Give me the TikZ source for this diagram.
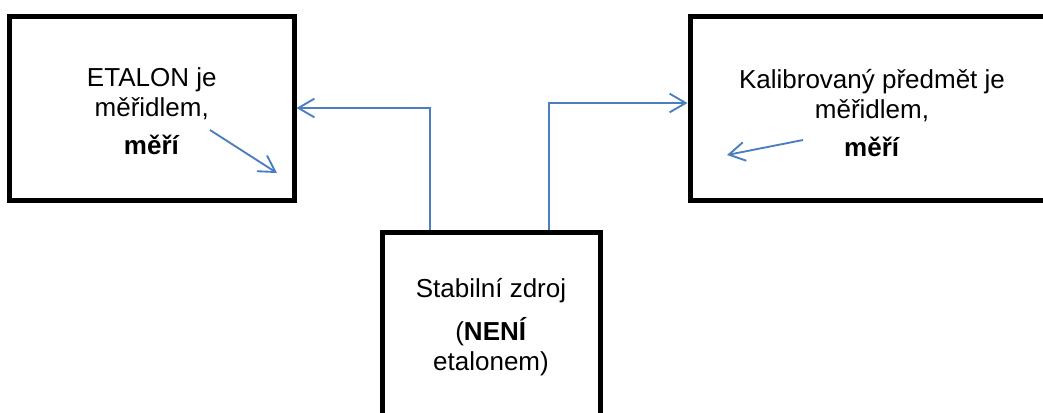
\documentclass[tikz,border=0pt]{standalone}
\usepackage{fontspec}
\setmainfont{Liberation Sans}
\usepackage{tikz}
\usetikzlibrary{arrows.meta}

\definecolor{linkblue}{RGB}{74,126,193}
\tikzset{
  box/.style={draw, line width=3.75pt, minimum height=138pt, inner sep=0pt},
  boxtext/.style={align=center, font=\fontsize{19.5pt}{22.5pt}\selectfont},
  link/.style={draw=linkblue, line width=1.4pt, -{Straight Barb[length=12pt,width=14pt]}}
}

\begin{document}
\begin{tikzpicture}[x=0.75pt, y=-0.75pt]
    \useasboundingbox (0,0) rectangle (1043,412);
    \clip (0,0) rectangle (1043,412);

    % Draw boxes
    \node[box, minimum width=213.4pt] (etalon) at (151.75,108) {};
    \node[box, minimum width=273pt] (kalib) at (872,108) {};
    \node[box, minimum width=163.5pt, minimum height=144pt] (zdroj) at (491,328) {};

    % Texts in the boxes
    \node[boxtext] (etalon-text) at ([yshift=-2.6pt]etalon.center) {ETALON je\\ měřidlem,\\[6.2pt] \textbf{měří}};
    \node[boxtext] (kalib-text) at ([yshift=-3.9pt]kalib.center) {Kalibrovaný předmět je\\ měřidlem,\\[6.2pt] \textbf{měří}};
    \node[boxtext] (zdroj-text) at ([yshift=0.9pt]zdroj.center) {Stabilní zdroj\\[10pt] (\textbf{NENÍ}\\ etalonem)};

    % Connectors from the source
    \draw[link] ([xshift=-45.75pt]zdroj.north) |- (etalon.east);
    \draw[link] ([xshift=43.5pt]zdroj.north) |- ([yshift=3.75pt]kalib.west);

    % Measuring arrows inside the boxes
    \coordinate (etalon-from) at (210,130);
    \coordinate (etalon-to) at (277,173);
    \coordinate (kalib-from) at (803,140);
    \coordinate (kalib-to) at (727,155);
    \foreach \a in {etalon, kalib} {
      \draw[link] (\a-from) -- (\a-to);
    }
\end{tikzpicture}
\end{document}
